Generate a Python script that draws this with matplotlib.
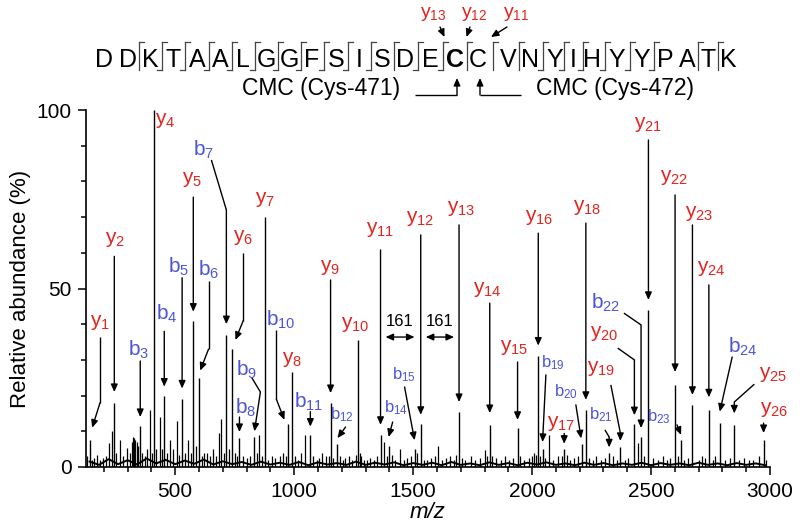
import matplotlib
matplotlib.use("Agg")
import matplotlib.pyplot as plt
from matplotlib.transforms import Affine2D

plt.rcParams['font.family'] = ['Liberation Sans', 'DejaVu Sans']
plt.rcParams['mathtext.fontset'] = 'custom'
plt.rcParams['mathtext.rm'] = 'Liberation Sans'
plt.rcParams['mathtext.it'] = 'Liberation Sans:italic'
plt.rcParams['mathtext.bf'] = 'Liberation Sans:bold'

RED = '#e3241f'
BLUE = '#4d55d6'

# assigned fragment ions (m/z, relative abundance %)
ion_names = ['y1', 'y2', 'b3', 'y4', 'b4', 'b5', 'y5', 'b6', 'b7', 'y6', 'b8', 'b9', 'y7',
             'b10', 'y8', 'b11', 'y9', 'b12', 'y10', 'y11', 'b14', 'b15', 'y12', 'y13',
             'y14', 'y15', 'y16', 'b19', 'y17', 'b20', 'y18', 'b21', 'y19', 'y20', 'b22',
             'y21', 'y22', 'b23', 'y23', 'y24', 'b24', 'y25', 'y26']
ion_mz = [142, 244, 353, 412, 454, 529, 576, 601, 715, 739, 770, 831, 876,
          974, 991, 1068, 1153, 1178, 1269, 1363, 1397, 1506, 1532, 1693,
          1822, 1939, 2026, 2044, 2135, 2208, 2226, 2324, 2371, 2430, 2458,
          2489, 2601, 2626, 2674, 2743, 2789, 2850, 2973]
ion_int = [7.5, 18, 11.5, 100, 20, 19, 41, 25, 37, 33, 8, 8.4, 70,
           12, 26.6, 9, 18, 6.5, 35.5, 9, 6, 5, 12, 15.5,
           11.8, 11, 31, 5, 5, 6.5, 16, 4, 5.6, 12, 8.5,
           44, 23, 7.5, 17.5, 16, 12.3, 11.8, 7.6]

# unassigned peaks
other_mz = [130, 150, 158, 170, 185, 198, 210, 223, 236, 252, 266, 280, 296, 310, 318, 323,
            328, 333, 338, 345, 362, 372, 382, 392, 402, 420, 437, 446, 466, 479, 492, 507,
            517, 540, 553, 566, 588, 612, 622, 633, 648, 660, 670, 686, 694, 704, 726, 750,
            760, 786, 800, 815, 842, 854, 866, 890, 905, 920, 940, 955, 964, 1002, 1015,
            1030, 1044, 1080, 1095, 1105, 1118, 1135, 1145, 1165, 1192, 1205, 1215, 1230,
            1245, 1260, 1275, 1281, 1292, 1305, 1320, 1335, 1350, 1378, 1392, 1410, 1425,
            1443, 1460, 1475, 1490, 1515, 1545, 1560, 1575, 1590, 1606, 1620, 1640, 1655,
            1670, 1680, 1705, 1720, 1745, 1760, 1780, 1801, 1810, 1832, 1850, 1870, 1885,
            1905, 1920, 1950, 1965, 1985, 2000, 2010, 2016, 2035, 2055, 2071, 2090, 2110,
            2125, 2145, 2160, 2175, 2195, 2240, 2255, 2270, 2290, 2305, 2340, 2355, 2390,
            2405, 2444, 2470, 2510, 2530, 2550, 2565, 2580, 2612, 2640, 2655, 2700, 2715,
            2727, 2760, 2770, 2810, 2830, 2870, 2890, 2910, 2930, 2955, 2985]
other_int = [3, 2, 2.5, 3.4, 2, 2.5, 3, 6.7, 10, 4, 7.5, 3, 5.4, 4, 7, 8.5,
             8, 7.5, 7, 6, 4, 3, 5, 16, 4, 5, 14, 5, 4, 7.6, 5, 13,
             3.5, 4, 7.6, 4, 6, 3, 4, 4, 3, 5, 3, 9.5, 13.4, 4, 5, 4,
             3, 3, 2.5, 3, 4, 9, 3, 2, 3, 2.5, 3, 4, 3, 3, 2,
             4, 9, 3, 2, 2.5, 4, 3, 3, 2.5, 3, 2, 2.5, 3,
             2, 3.5, 4, 3, 2, 2, 2.5, 2, 3, 7, 3, 3.5, 2,
             5, 2, 2.5, 3, 4, 2, 2, 2.5, 3, 6, 2, 2.5, 3,
             2, 3.5, 2.5, 2, 3, 2, 2.5, 4.8, 3, 3, 2.5, 2, 3,
             2, 2.5, 3, 2, 2.5, 3, 4, 3.5, 3, 2.5, 9, 2, 3,
             3, 3.5, 2, 2.5, 3, 2.5, 2, 3, 2, 2.5, 3, 2, 2,
             2.5, 6.7, 3, 2.5, 2, 3, 2, 2.5, 3, 2, 2.5, 2, 3,
             2.5, 2, 3, 2, 2.5, 2, 2.5, 2, 2, 3, 2]

# baseline noise
noise_mz = [140, 180, 220, 260, 300, 340, 380, 420, 460, 500, 540, 580, 620, 660, 700, 740,
            780, 820, 860, 900, 940, 980, 1020, 1060, 1100, 1140, 1180, 1220, 1260, 1300,
            1340, 1380, 1420, 1460, 1500, 1540, 1580, 1620, 1660, 1700, 1740, 1780, 1820,
            1860, 1900, 1940, 1980, 2020, 2060, 2100, 2140, 2180, 2220, 2260, 2300, 2340,
            2380, 2420, 2460, 2500, 2540, 2580, 2620, 2660, 2700, 2740, 2780, 2820, 2860,
            2900, 2940, 2980]
noise_int = [1.5, 0.6, 2.2, 0.8, 1.9, 0.7, 2.4, 1.0, 2.0, 0.8,
             1.8, 0.9, 2.1, 0.7, 1.6, 0.8, 1.4, 0.6, 1.5, 0.7,
             1.2, 0.6, 1.4, 0.5, 1.3, 0.7, 1.1, 0.6, 1.5, 0.6,
             1.2, 0.7, 1.3, 0.5, 1.1, 0.6, 1.2, 0.5, 1.4, 0.6,
             1.0, 0.5, 1.3, 0.6, 1.1, 0.5, 1.2, 0.7, 1.3, 0.6,
             1.0, 0.5, 1.2, 0.6, 1.1, 0.5, 1.0, 0.6, 1.2, 0.5,
             1.1, 0.6, 1.0, 0.5, 1.2, 0.6, 1.0, 0.5, 1.1, 0.6,
             1.0, 0.5]

sequence = list('DDKTAALGGFSISDECCVNYIHYYPATK')

# label position (m/z, %) and arrow path for each assigned ion
LAYOUT = {
    'y1': (184, 40.6, [(184, 36.5), (184, 18), (151, 11)]),
    'y2': (247, 63.6, [(244, 59), (244, 21)]),
    'b3': (345, 32.8, [(353, 29.7), (353, 14)]),
    'y4': (458, 97, None),
    'b4': (465, 43, [(454, 38), (454, 22.5)]),
    'b5': (513, 56, [(529, 53), (529, 22)]),
    'y5': (570, 80.4, [(576, 75.6), (576, 43.5)]),
    'b6': (639, 55.2, [(640, 52), (640, 33), (605, 27)]),
    'b7': (618, 88.8, [(652, 86), (715, 72), (715, 40)]),
    'y6': (786, 64.4, [(786, 60), (786, 41), (753, 35.6)]),
    'y7': (879, 74.8, None),
    'b8': (795, 16.5, [(770, 14), (770, 9.8)]),
    'b9': (802, 27.2, [(822, 25), (858, 21), (833, 10)]),
    'b10': (942, 41.2, [(925, 38.4), (925, 19), (959, 13.2)]),
    'y8': (991, 30, None),
    'b11': (1061, 18.3, [(1068, 15.5), (1068, 11.3)]),
    'y9': (1150, 56, [(1153, 52.4), (1153, 20.7)]),
    'b12': (1202, 14.6, [(1216, 11.2), (1182, 8.1)]),
    'y10': (1258, 40, None),
    'y11': (1360, 66.4, [(1363, 60.8), (1363, 11.8)]),
    'b14': (1426, 16.5, [(1414, 12.6), (1397, 8.4)]),
    'b15': (1460, 25.8, [(1464, 22.4), (1506, 7.5)]),
    'y12': (1530, 69.5, [(1532, 65), (1532, 14.6)]),
    'y13': (1700, 72.5, [(1693, 67.8), (1693, 18.2)]),
    'y14': (1812, 49.6, [(1822, 45.9), (1822, 15.1)]),
    'y15': (1923, 33.6, [(1939, 29.4), (1939, 13.2)]),
    'y16': (2028, 70, [(2026, 65.5), (2026, 34)]),
    'b19': (2086, 29.1, [(2058, 25.8), (2044, 7)]),
    'y17': (2121, 12.3, [(2135, 9.4), (2135, 6.5)]),
    'b20': (2142, 21, [(2184, 17.4), (2206, 8)]),
    'y18': (2233, 72.8, [(2226, 68.3), (2226, 18.8)]),
    'b21': (2289, 14.6, [(2306, 10.4), (2324, 8.4), (2324, 5.5)]),
    'y19': (2289, 27.7, [(2331, 23), (2371, 9.5), (2371, 7.3)]),
    'y20': (2302, 37.5, [(2360, 33.3), (2430, 30), (2430, 14.5)]),
    'b22': (2311, 45.9, [(2386, 43.1), (2458, 39.8), (2458, 10.9)]),
    'y21': (2486, 95.8, [(2489, 91.6), (2489, 46.8)]),
    'y22': (2597, 81.2, [(2601, 76.2), (2601, 26.6)]),
    'b23': (2534, 14, [(2609, 11.8), (2626, 9)]),
    'y23': (2702, 71.1, [(2674, 67.8), (2674, 20.2)]),
    'y24': (2752, 55.7, [(2743, 51), (2743, 19.5)]),
    'b24': (2886, 33.6, [(2841, 30.8), (2789, 15.5)]),
    'y25': (3012, 25.8, [(2934, 23.2), (2850, 18.2), (2850, 15)]),
    'y26': (3018, 16, [(2973, 12.3), (2973, 9.5)]),
}
SMALL = {'b12', 'b14', 'b15', 'b19', 'b20', 'b21', 'b23'}

# x centre of each residue in the header (figure pixels)
seq_x = [104, 128, 150, 173, 197, 220, 243, 266, 289, 312, 336, 359, 382, 405,
         430, 455, 478, 508, 530, 555, 573, 592, 617, 642, 665, 687, 708, 728]

ARROW = dict(arrowstyle='-|>,head_length=0.45,head_width=0.2', color='black',
             lw=1.0, shrinkA=0, shrinkB=0, mutation_scale=10)


def draw_path(ax, path, transform=None):
    kw = {} if transform is None else {'transform': transform}
    xs = [p[0] for p in path[:-1]]
    ys = [p[1] for p in path[:-1]]
    if len(xs) > 1:
        ax.plot(xs, ys, color='black', lw=1.0, solid_capstyle='butt', clip_on=False, **kw)
    akw = {} if transform is None else {'xycoords': transform, 'textcoords': transform}
    ax.annotate('', xy=path[-1], xytext=path[-2], arrowprops=ARROW, annotation_clip=False, **akw)


def main():
    fig = plt.figure(figsize=(8, 5.26), dpi=100)
    ax = fig.add_axes([86 / 800, 59 / 526, 684 / 800, 357 / 526])
    pix = Affine2D().scale(0.01, -0.01).translate(0, 5.26) + fig.dpi_scale_trans

    # spectrum
    ax.plot(noise_mz, noise_int, color='black', lw=1.4)
    ax.vlines(other_mz, 0, other_int, color='black', lw=0.9)
    ax.vlines(ion_mz, 0, ion_int, color='black', lw=1.0)

    # ion labels and arrows
    for name in ion_names:
        lx, ly, path = LAYOUT[name]
        color = RED if name[0] == 'y' else BLUE
        size = 12 if name in SMALL else 15
        ax.text(lx, ly, r'$\mathrm{%s}_{%s}$' % (name[0], name[1:]), color=color,
                fontsize=size, ha='center', va='center', clip_on=False)
        if path is not None:
            draw_path(ax, path)

    # 161 mass differences
    dbl = dict(ARROW, arrowstyle='<|-|>,head_length=0.45,head_width=0.2')
    ax.annotate('', xy=(1506, 36.4), xytext=(1384, 36.4), arrowprops=dbl)
    ax.annotate('', xy=(1672, 36.4), xytext=(1553, 36.4), arrowprops=dbl)
    ax.text(1444, 40.8, '161', fontsize=12, ha='center', va='center')
    ax.text(1610, 40.8, '161', fontsize=12, ha='center', va='center')

    ax.set_xlim(125, 3000)
    ax.set_ylim(0, 100)
    ax.set_xticks([500, 1000, 1500, 2000, 2500, 3000])
    ax.set_xticks(range(200, 3000, 100), minor=True)
    ax.set_yticks([0, 50, 100])
    ax.set_yticks(range(10, 100, 10), minor=True)
    ax.tick_params(which='major', length=5.5, width=1.1, labelsize=15, pad=5)
    ax.tick_params(which='minor', length=3.5, width=1.1)
    for s in ['top', 'right']:
        ax.spines[s].set_visible(False)
    for s in ['left', 'bottom']:
        ax.spines[s].set_linewidth(1.2)
    ax.set_ylabel('Relative abundance (%)', fontsize=16, labelpad=4)
    ax.set_xlabel('m/z', fontsize=16, style='italic', labelpad=1)

    # peptide sequence header
    b_obs = {int(n[1:]) for n in ion_names if n[0] == 'b'}
    y_obs = {int(n[1:]) for n in ion_names if n[0] == 'y'}
    n_res = len(sequence)
    for i, aa in enumerate(sequence):
        fig.text(seq_x[i], 67, aa, transform=pix, fontsize=18, ha='center', va='baseline',
                 fontweight='bold' if i == 15 else 'normal')
    sep_x = {}
    for i in range(1, n_res):
        has_b = i in b_obs
        has_y = (n_res - i) in y_obs
        if not (has_b or has_y):
            continue
        xs = (seq_x[i - 1] + seq_x[i]) / 2
        sep_x[i] = xs
        ax.plot([xs, xs], [42, 70], color='#444444', lw=0.9, transform=pix, clip_on=False)
        if has_y:
            ax.plot([xs, xs + 5], [42, 42], color='#444444', lw=0.9, transform=pix, clip_on=False)
        if has_b:
            ax.plot([xs - 5, xs], [70, 70], color='#444444', lw=0.9, transform=pix, clip_on=False)

    # ions spanning the modified cysteines
    for name, lx, start, tip_dx in [('y13', 433, 440, 2), ('y12', 474, 470, 0), ('y11', 516, 507, -2)]:
        i = n_res - int(name[1:])
        fig.text(lx, 14, r'$\mathrm{y}_{%s}$' % name[1:], transform=pix, color=RED,
                 fontsize=14, ha='center', va='center')
        draw_path(ax, [(start, 27), (sep_x[i] + tip_dx, 37)], transform=pix)

    fig.text(321, 89, 'CMC (Cys-471)', transform=pix, fontsize=16.5, ha='center', va='center')
    fig.text(615, 89, 'CMC (Cys-472)', transform=pix, fontsize=16.5, ha='center', va='center')
    draw_path(ax, [(415, 95), (457, 95), (457, 78)], transform=pix)
    draw_path(ax, [(521, 95), (480, 95), (480, 78)], transform=pix)

    fig.savefig('out.png', dpi=100)


if __name__ == '__main__':
    main()
